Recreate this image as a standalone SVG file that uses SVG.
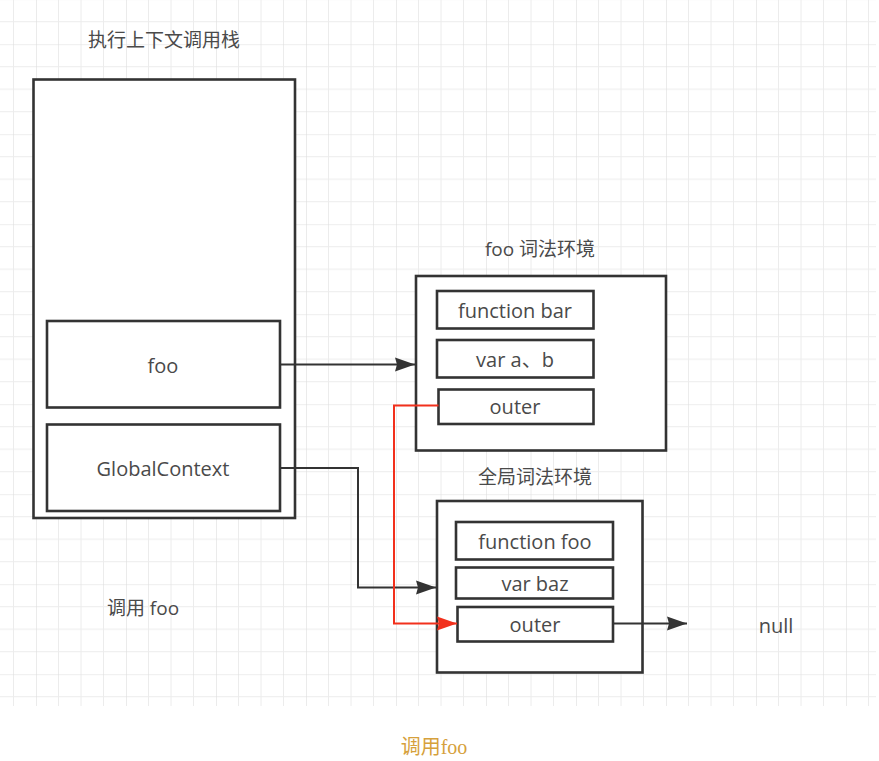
<svg xmlns="http://www.w3.org/2000/svg" width="879" height="761" viewBox="0 0 879 761">
<style>
.box{fill:#fff;stroke:#333;stroke-width:2.6}
.t{font-family:"Open Sans","Noto Sans CJK SC",sans-serif;fill:#4a4a4a;text-anchor:middle;dominant-baseline:central}
.lat{font-size:20px}
.cjk{font-size:19px}
.con{fill:none;stroke:#333;stroke-width:2}
.red{fill:none;stroke:#f2301c;stroke-width:2}
</style>
<defs>
<pattern id="grid" patternUnits="userSpaceOnUse" x="36" y="44.2" width="90" height="90">
<path d="M22.5 0V90M45 0V90M67.5 0V90M0 22.5H90M0 45H90M0 67.5H90" stroke="#ececec" stroke-width="1" fill="none"/>
<path d="M0 0V90M0 0H90" stroke="#dedede" stroke-width="1.2" fill="none"/>
</pattern>
<marker id="ah" markerUnits="userSpaceOnUse" markerWidth="22" markerHeight="16" refX="20" refY="7.5" orient="auto">
<path d="M0 0.5L20 7.5L0 14.5L2 7.5z" fill="#333"/>
</marker>
<marker id="ahr" markerUnits="userSpaceOnUse" markerWidth="22" markerHeight="16" refX="20" refY="7.5" orient="auto">
<path d="M0 0.5L20 7.5L0 14.5L2 7.5z" fill="#f2301c"/>
</marker>
</defs>
<rect width="879" height="761" fill="#fff"/>
<rect x="0" y="0" width="876" height="706" fill="url(#grid)"/>

<g id="stack-title"><text class="t cjk" x="164" y="40">执行上下文调用栈</text></g>
<g id="stack"><rect class="box" x="33.5" y="79.5" width="261.5" height="438.5"/></g>
<g id="foo-ctx"><rect class="box" x="47" y="321" width="233" height="86.5"/><text class="t lat" x="163" y="365">foo</text></g>
<g id="global-ctx"><rect class="box" x="47" y="424.5" width="233" height="86.5"/><text class="t lat" x="163" y="468">GlobalContext</text></g>
<g id="call-label"><text class="t cjk" x="143" y="608">调用 foo</text></g>

<g id="foo-env-title"><text class="t cjk" x="540" y="249">foo 词法环境</text></g>
<g id="foo-env"><rect class="box" x="416" y="276" width="250" height="174.5"/></g>
<g id="foo-bar"><rect class="box" x="437" y="291" width="156.5" height="37.5"/><text class="t lat" x="515" y="310">function bar</text></g>
<g id="foo-ab"><rect class="box" x="437" y="340" width="156.5" height="37.5"/><text class="t lat" x="515" y="359">var a、b</text></g>
<g id="foo-outer"><rect class="box" x="438.5" y="389.5" width="155" height="34.5"/><text class="t lat" x="515" y="406">outer</text></g>

<g id="global-env-title"><text class="t cjk" x="535" y="477">全局词法环境</text></g>
<g id="global-env"><rect class="box" x="437" y="501" width="205.5" height="171.5"/></g>
<g id="global-foo"><rect class="box" x="456" y="522" width="157" height="37.5"/><text class="t lat" x="535" y="541">function foo</text></g>
<g id="global-baz"><rect class="box" x="456" y="567.5" width="157" height="31"/><text class="t lat" x="535" y="583">var baz</text></g>
<g id="global-outer"><rect class="box" x="457.5" y="607" width="155.5" height="34.5"/><text class="t lat" x="535" y="624">outer</text></g>

<g id="null"><text class="t lat" x="776" y="625">null</text></g>

<g id="connectors">
<path class="con" d="M280 364.5H415" marker-end="url(#ah)"/>
<path class="con" d="M280 468H358V587.5H436" marker-end="url(#ah)"/>
<path class="red" d="M438.5 405.5H394V623.5H457" marker-end="url(#ahr)"/>
<path class="con" d="M613 623.5H687" marker-end="url(#ah)"/>
</g>

<g id="caption"><text x="434" y="747" font-family="'Liberation Serif','Noto Sans CJK SC',serif" font-size="20" fill="#d6a13c" text-anchor="middle" dominant-baseline="central">调用foo</text></g>
</svg>
